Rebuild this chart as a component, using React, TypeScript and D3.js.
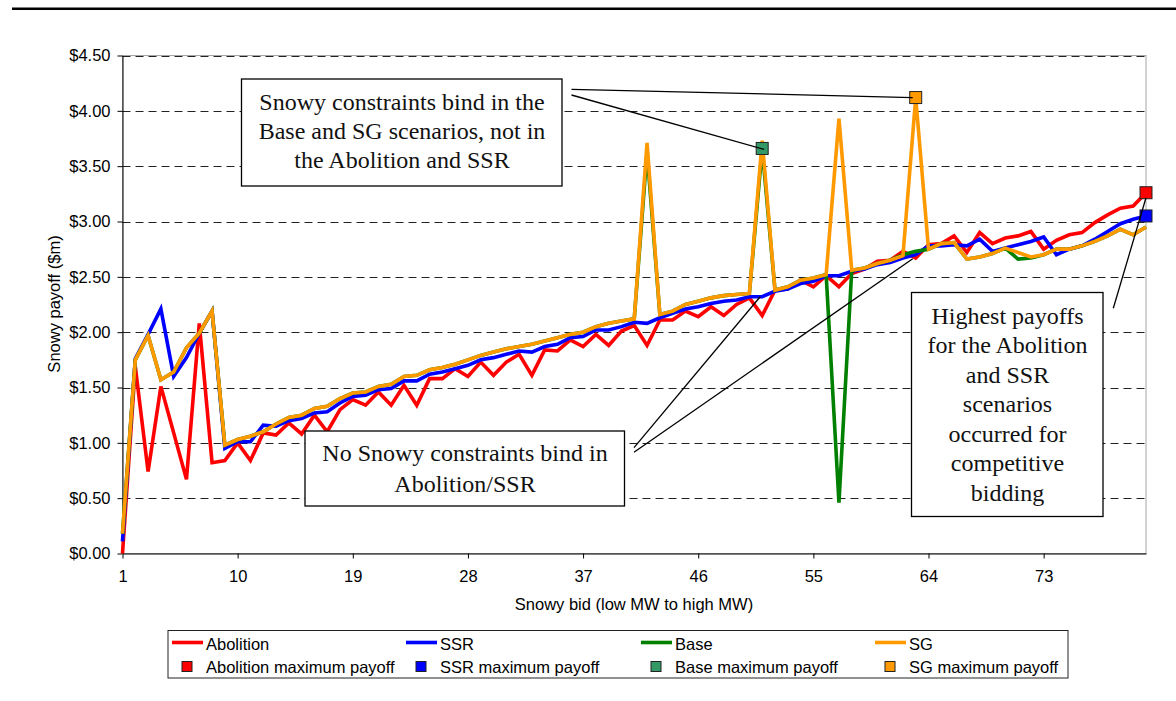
import React, { useEffect, useRef } from "react";
import * as d3 from "d3";

// Snowy bid index (low MW to high MW)
const bids = d3.range(1, 82);

const abolition = [
  0.0, 1.69, 0.74, 1.51, 1.09, 0.67, 2.08, 0.82, 0.84, 1.0,
  0.84, 1.09, 1.07, 1.18, 1.08, 1.25, 1.1, 1.3, 1.39, 1.34,
  1.46, 1.34, 1.52, 1.34, 1.58, 1.58, 1.67, 1.6, 1.73, 1.61,
  1.73, 1.8, 1.61, 1.84, 1.83, 1.93, 1.87, 1.98, 1.88, 2.01,
  2.06, 1.88, 2.11, 2.11, 2.19, 2.14, 2.23, 2.15, 2.25, 2.31,
  2.15, 2.38, 2.39, 2.47, 2.41, 2.51, 2.41, 2.53, 2.57, 2.64,
  2.65, 2.73, 2.67, 2.79, 2.8, 2.87, 2.72, 2.9, 2.8, 2.85,
  2.87, 2.91, 2.75, 2.83, 2.88, 2.9, 2.99, 3.06, 3.12, 3.14,
  3.26,
];

const ssr = [
  0.11, 1.76, 1.98, 2.21, 1.6, 1.77, 1.99, 2.19, 0.95, 1.01,
  1.01, 1.16, 1.15, 1.2, 1.22, 1.27, 1.28, 1.36, 1.42, 1.43,
  1.48, 1.49, 1.56, 1.56, 1.62, 1.64, 1.67, 1.7, 1.75, 1.77,
  1.8, 1.83, 1.82, 1.87, 1.89, 1.95, 1.96, 2.02, 2.02, 2.05,
  2.09, 2.08, 2.13, 2.17, 2.21, 2.23, 2.26, 2.28, 2.29, 2.32,
  2.32, 2.37, 2.39, 2.44, 2.46, 2.51, 2.51, 2.55, 2.57, 2.61,
  2.63, 2.67, 2.7, 2.78, 2.78, 2.79, 2.78, 2.84, 2.73, 2.76,
  2.79, 2.82, 2.86, 2.7, 2.75, 2.78, 2.84, 2.91, 2.98, 3.02,
  3.05,
];

const base = [
  0.18, 1.75, 1.97, 1.57, 1.64, 1.86, 1.99, 2.19, 0.98, 1.03,
  1.06, 1.1, 1.17, 1.23, 1.25, 1.31, 1.33, 1.4, 1.45, 1.46,
  1.51, 1.53, 1.6, 1.61, 1.66, 1.68, 1.71, 1.75, 1.79, 1.82,
  1.85, 1.87, 1.89, 1.92, 1.95, 1.98, 2.0, 2.05, 2.08, 2.1,
  2.12, 3.63, 2.16, 2.19, 2.25, 2.28, 2.31, 2.33, 2.34, 2.35,
  3.66, 2.38, 2.41, 2.47, 2.49, 2.52, 0.46, 2.56, 2.58, 2.62,
  2.65, 2.7, 2.73, 2.75, 2.8, 2.81, 2.66, 2.68, 2.71, 2.76,
  2.66, 2.67, 2.7, 2.75, 2.75, 2.78, 2.82, 2.87, 2.93, 2.88,
  2.95,
];

const sg = [
  0.18, 1.75, 1.97, 1.57, 1.64, 1.86, 1.99, 2.19, 0.98, 1.03,
  1.06, 1.1, 1.17, 1.23, 1.25, 1.31, 1.33, 1.4, 1.45, 1.46,
  1.51, 1.53, 1.6, 1.61, 1.66, 1.68, 1.71, 1.75, 1.79, 1.82,
  1.85, 1.87, 1.89, 1.92, 1.95, 1.98, 2.0, 2.05, 2.08, 2.1,
  2.12, 3.71, 2.16, 2.19, 2.25, 2.28, 2.31, 2.33, 2.34, 2.35,
  3.73, 2.38, 2.41, 2.47, 2.49, 2.52, 3.93, 2.56, 2.58, 2.62,
  2.65, 2.69, 4.12, 2.75, 2.8, 2.81, 2.66, 2.68, 2.71, 2.76,
  2.72, 2.68, 2.7, 2.75, 2.75, 2.78, 2.82, 2.87, 2.93, 2.88,
  2.95,
];

const xTicks = [1, 10, 19, 28, 37, 46, 55, 64, 73];
const yTicks = [0, 0.5, 1, 1.5, 2, 2.5, 3, 3.5, 4, 4.5];

const seriesNames = ["Abolition", "SSR", "Base", "SG"];
const seriesValues = [abolition, ssr, base, sg];
const lineColors = ["#ff0000", "#0000ff", "#008000", "#ff9900"];
const markerColors = ["#ff0000", "#0000ff", "#339966", "#ff9900"];

const note1 = ["Snowy constraints bind in the", "Base and SG scenarios, not in", "the Abolition and SSR"];
const note2 = ["No Snowy constraints bind in", "Abolition/SSR"];
const note3 = ["Highest payoffs", "for the Abolition", "and SSR", "scenarios", "occurred for", "competitive", "bidding"];

const SANS = "'Liberation Sans', Arial, sans-serif";
const SERIF = "'Liberation Serif', 'Times New Roman', serif";
const SANS_SIZE = 16.5;
const SERIF_SIZE = 24;

const App: React.FC = () => {
  const svgRef = useRef<SVGSVGElement>(null);

  useEffect(() => {
    if (!svgRef.current) return;
    const svg = d3.select(svgRef.current);
    svg.selectAll("*").remove();

    const left = 122.5;
    const right = 1146;
    const top = 55.5;
    const bottom = 553.5;

    const x = d3.scaleLinear().domain([1, bids.length]).range([left, right]);
    const y = d3.scaleLinear().domain([0, 4.5]).range([bottom, top]);

    // page header rule
    svg.append("line")
      .attr("x1", 12).attr("x2", 1176)
      .attr("y1", 8.7).attr("y2", 8.7)
      .attr("stroke", "#000").attr("stroke-width", 2.6);

    // plot frame
    svg.append("rect")
      .attr("x", left).attr("y", top)
      .attr("width", right - left).attr("height", bottom - top)
      .attr("fill", "#fff").attr("stroke", "#a6a6a6");

    // gridlines
    svg.append("g")
      .selectAll("line")
      .data(yTicks.filter((d) => d > 0))
      .join("line")
      .attr("x1", left).attr("x2", right)
      .attr("y1", (d) => Math.round(y(d)) + 0.5)
      .attr("y2", (d) => Math.round(y(d)) + 0.5)
      .attr("stroke", "#222")
      .attr("stroke-dasharray", "8,5");

    // y axis
    const yAxis = svg.append("g")
      .attr("transform", `translate(${left},0)`)
      .call(
        d3.axisLeft(y)
          .tickValues(yTicks)
          .tickSize(5)
          .tickSizeOuter(0)
          .tickPadding(7)
          .tickFormat((d) => "$" + d3.format(".2f")(d as number))
      );
    yAxis.attr("font-family", SANS).attr("font-size", SANS_SIZE);
    yAxis.selectAll("text").attr("fill", "#000");
    yAxis.selectAll("line, path").attr("stroke", "#000");

    // x axis
    const xAxis = svg.append("g")
      .attr("transform", `translate(0,${bottom})`)
      .call(
        d3.axisBottom(x)
          .tickValues(xTicks)
          .tickSize(5)
          .tickSizeOuter(0)
          .tickPadding(12)
          .tickFormat((d) => String(d))
      );
    xAxis.attr("font-family", SANS).attr("font-size", SANS_SIZE);
    xAxis.selectAll("text").attr("fill", "#000");
    xAxis.selectAll("line, path").attr("stroke", "#000");

    // axis titles
    svg.append("text")
      .attr("x", 634).attr("y", 610)
      .attr("text-anchor", "middle")
      .attr("font-family", SANS).attr("font-size", SANS_SIZE)
      .text("Snowy bid (low MW to high MW)");

    svg.append("text")
      .attr("transform", "translate(60,304) rotate(-90)")
      .attr("text-anchor", "middle")
      .attr("font-family", SANS).attr("font-size", SANS_SIZE)
      .text("Snowy payoff ($m)");

    // series lines
    const line = d3.line<number>()
      .x((_, i) => x(bids[i]))
      .y((d) => y(d));

    seriesValues.forEach((vals, k) => {
      svg.append("path")
        .datum(vals)
        .attr("d", line)
        .attr("fill", "none")
        .attr("stroke", lineColors[k])
        .attr("stroke-width", 3.6)
        .attr("stroke-linejoin", "miter");
    });

    // maximum payoff markers
    const maxIdx = seriesValues.map((vals) => d3.maxIndex(vals));
    seriesValues.forEach((vals, k) => {
      const i = maxIdx[k];
      svg.append("rect")
        .attr("x", x(bids[i]) - 6).attr("y", y(vals[i]) - 6)
        .attr("width", 12).attr("height", 12)
        .attr("fill", markerColors[k])
        .attr("stroke", "#222").attr("stroke-width", 1);
    });

    // annotation boxes
    const note = (lines: string[], bx: number, by: number, bw: number, bh: number, cx: number, y0: number, dy: number) => {
      svg.append("rect")
        .attr("x", bx).attr("y", by).attr("width", bw).attr("height", bh)
        .attr("fill", "#fff").attr("stroke", "#000").attr("stroke-width", 1.3);
      svg.append("g")
        .selectAll("text")
        .data(lines)
        .join("text")
        .attr("x", cx)
        .attr("y", (_, i) => y0 + i * dy)
        .attr("text-anchor", "middle")
        .attr("font-family", SERIF)
        .attr("font-size", SERIF_SIZE)
        .attr("fill", "#111")
        .text((d) => d);
    };

    note(note1, 241.5, 79, 320.5, 107, 402, 110, 29);
    note(note2, 305, 431, 319.5, 75, 465, 461, 30.5);
    note(note3, 911.5, 292.5, 191.5, 224, 1007.5, 323.5, 29.5);

    // leader lines
    const lead = (x1: number, y1: number, x2: number, y2: number) => {
      svg.append("line")
        .attr("x1", x1).attr("y1", y1).attr("x2", x2).attr("y2", y2)
        .attr("stroke", "#000").attr("stroke-width", 1.3);
    };
    const sgMax = maxIdx[3];
    const baseMax = maxIdx[2];
    const abMax = maxIdx[0];
    lead(571.5, 89.3, x(bids[sgMax]) - 3, y(sg[sgMax]));
    lead(571.5, 95, x(bids[baseMax]) + 2, y(base[baseMax]) + 1);
    lead(634, 447.7, x(bids[50]) - 2, y(ssr[50]));
    lead(634, 452.3, x(bids[62]) - 3, y(ssr[62]) + 4);
    lead(1113.3, 308.3, x(bids[abMax]), y(abolition[abMax]) + 5);

    // legend
    const lg = svg.append("g");
    lg.append("rect")
      .attr("x", 168).attr("y", 630.5).attr("width", 900).attr("height", 47.5)
      .attr("fill", "#fff").attr("stroke", "#222");
    const cols = [172, 406, 641, 875];
    seriesNames.forEach((name, k) => {
      const cx = cols[k];
      lg.append("line")
        .attr("x1", cx).attr("x2", cx + 31)
        .attr("y1", 642.5).attr("y2", 642.5)
        .attr("stroke", lineColors[k]).attr("stroke-width", 3.6);
      lg.append("text")
        .attr("x", cx + 34).attr("y", 649.5)
        .attr("font-family", SANS).attr("font-size", SANS_SIZE)
        .text(name);
      lg.append("rect")
        .attr("x", cx + 10).attr("y", 661.5)
        .attr("width", 10).attr("height", 10)
        .attr("fill", markerColors[k]).attr("stroke", "#222");
      lg.append("text")
        .attr("x", cx + 34).attr("y", 672.5)
        .attr("font-family", SANS).attr("font-size", SANS_SIZE)
        .text(`${name} maximum payoff`);
    });
  }, []);

  return (
    <svg
      ref={svgRef}
      width={1176}
      height={701}
      style={{ position: "absolute", left: 0, top: 0, background: "#fff" }}
    />
  );
};

export default App;
